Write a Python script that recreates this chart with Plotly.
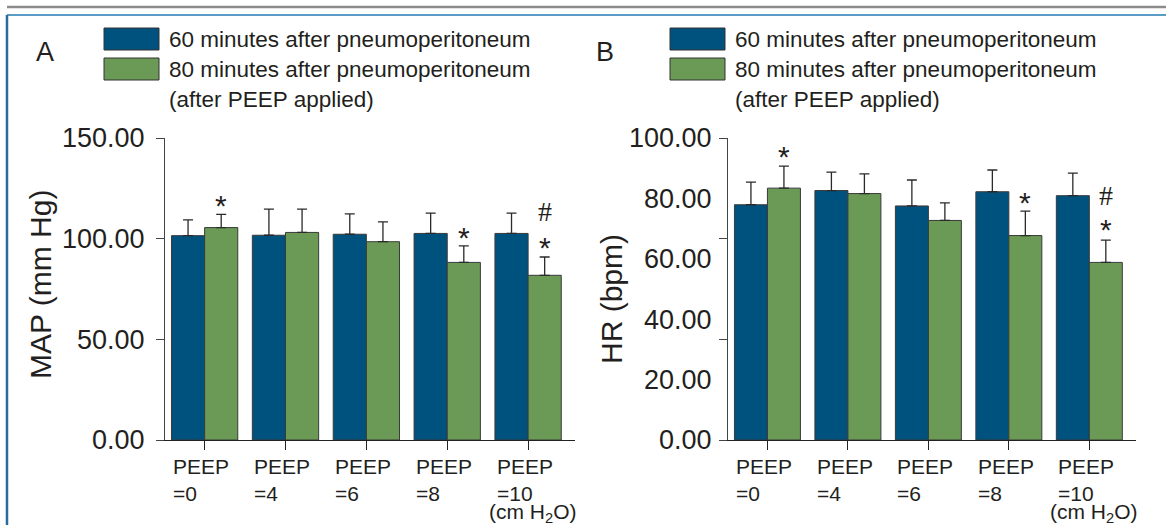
import plotly.graph_objects as go

# ---------------- data ----------------
categories = ["PEEP<br>=0", "PEEP<br>=4", "PEEP<br>=6", "PEEP<br>=8", "PEEP<br>=10"]
unit_label = "(cm H<sub>2</sub>O)"
series_names = ["60 minutes after pneumoperitoneum",
                "80 minutes after pneumoperitoneum",
                "(after PEEP applied)"]
y_titles = ["MAP (mm Hg)", "HR (bpm)"]

map_60 = [101.5, 101.7, 102.2, 102.6, 102.6]
map_60_sd = [7.8, 13.0, 10.1, 10.1, 10.1]
map_80 = [105.5, 103.1, 98.5, 88.2, 81.8]
map_80_sd = [6.6, 11.6, 9.8, 8.2, 9.1]
map_marks = [("*", 0, 116.5), ("*", 3, 100.8), ("#", 4, 113.6), ("*", 4, 95.8)]

hr_60 = [77.9, 82.6, 77.5, 82.2, 80.9]
hr_60_sd = [7.5, 6.1, 8.6, 7.2, 7.5]
hr_80 = [83.4, 81.6, 72.7, 67.7, 58.8]
hr_80_sd = [7.3, 6.5, 5.8, 8.1, 7.4]
hr_marks = [("*", 0, 94.0), ("*", 3, 78.8), ("#", 4, 80.9), ("*", 4, 69.8)]

map_ticks = [0, 50, 100, 150]
hr_ticks = [0, 20, 40, 60, 80, 100]
hr_tickmarks = [0, 100 / 3, 200 / 3, 100]

# ---------------- style ----------------
W, H = 1166, 525
BLUE = "#00527e"
GREEN = "#6a9a55"
TXT = "#231f20"
FONT = "Liberation Sans, Arial, sans-serif"
xpos = list(range(len(categories)))

def py(p):  # pixel from top -> paper
    return 1 - p / H

def px(p):
    return p / W

ydom = [py(440), py(138)]
xdomA = [px(165), px(575)]
xdomB = [px(728), px(1136)]
xrange_ = [-0.49, 4.58]

fig = go.Figure()

def add_panel(vals60, sd60, vals80, sd80, xa, ya):
    for vals, sd, col, name in [(vals60, sd60, BLUE, series_names[0]),
                                (vals80, sd80, GREEN, series_names[1])]:
        fig.add_trace(go.Bar(
            x=xpos, y=vals, name=name, marker=dict(color=col, line=dict(color="#3a3a3a", width=1)),
            error_y=dict(type="data", array=sd, symmetric=False, arrayminus=[0] * len(sd),
                         color="#2a2a2a", thickness=1.3, width=5),
            xaxis=xa, yaxis=ya, showlegend=False, hoverinfo="skip"))

add_panel(map_60, map_60_sd, map_80, map_80_sd, "x", "y")
add_panel(hr_60, hr_60_sd, hr_80, hr_80_sd, "x2", "y2")

axis_font = dict(family=FONT, size=27, color=TXT)
xcommon = dict(range=xrange_, showgrid=False, zeroline=False, showline=True, linecolor="#222",
               linewidth=1.2, ticks="outside", ticklen=9, tickcolor="#222", tickwidth=1,
               tickvals=xpos, ticktext=[""] * len(xpos), fixedrange=True, automargin=False)
fig.update_layout(
    width=W, height=H, margin=dict(l=0, r=0, t=0, b=0, autoexpand=False),
    paper_bgcolor="white", plot_bgcolor="white", showlegend=False,
    barmode="group", bargap=0.18, bargroupgap=0.0,
    xaxis=dict(domain=xdomA, anchor="y", **xcommon),
    xaxis2=dict(domain=xdomB, anchor="y2", **xcommon),
    yaxis=dict(domain=ydom, anchor="x", range=[0, 150], tickvals=map_ticks,
               ticktext=[f"{v:.2f}" for v in map_ticks], ticks="outside", ticklen=8,
               tickcolor="#444", showline=True, linecolor="#444", linewidth=1,
               showgrid=False, zeroline=False, tickfont=axis_font, ticklabelstandoff=6,
               automargin=False),
    yaxis2=dict(domain=ydom, anchor="x2", range=[0, 100], tickvals=hr_ticks,
                ticktext=[f"{v:.2f}" for v in hr_ticks], ticks="", showline=True,
                linecolor="#444", linewidth=1, showgrid=False, zeroline=False, tickfont=axis_font,
                ticklabelstandoff=10, automargin=False),
    yaxis3=dict(domain=ydom, anchor="x2", overlaying="y2", range=[0, 100], tickvals=hr_tickmarks,
                ticktext=[""] * len(hr_tickmarks), ticks="outside", ticklen=8, tickcolor="#444",
                showline=False, showgrid=False, zeroline=False, automargin=False),
)

# invisible trace to keep the tick-mark overlay axis alive
fig.add_trace(go.Scatter(x=[None], y=[None], xaxis="x2", yaxis="y3", showlegend=False,
                         hoverinfo="skip"))

ann = []
shapes = []

def panel_text(xa, ya, xd, marks, letter, letter_x, leg_x0, title, title_xy):
    # y-axis title
    ann.append(dict(x=px(title_xy[0]), y=py(title_xy[1]), xref="paper", yref="paper", text=title,
                    textangle=-90, showarrow=False, xanchor="center", yanchor="middle",
                    font=dict(family=FONT, size=30, color=TXT)))
    # x category labels, left aligned with the blue bar's left edge
    for k, c in zip(xpos, categories):
        ann.append(dict(x=k - 0.41, y=py(453), xref=xa, yref="paper", text=c, showarrow=False,
                        xanchor="left", yanchor="top", align="left",
                        font=dict(family=FONT, size=21, color=TXT)))
    ann.append(dict(x=xd[1] + px(4), y=py(513), xref="paper", yref="paper", text=unit_label,
                    showarrow=False, xanchor="right", yanchor="middle",
                    font=dict(family=FONT, size=21, color=TXT)))
    for sym, k, yv in marks:
        ann.append(dict(x=k + 0.205, y=yv, xref=xa, yref=ya, text=sym, showarrow=False,
                        xanchor="center", yanchor="middle",
                        font=dict(family="Liberation Serif, Times New Roman, serif" if sym == "#" else FONT,
                                  size=30 if sym == "*" else 28, color=TXT)))
    ann.append(dict(x=px(letter_x), y=py(52), xref="paper", yref="paper", text=letter,
                    showarrow=False, xanchor="center", yanchor="middle",
                    font=dict(family=FONT, size=27, color=TXT)))
    # legend
    for (yt, yb), col in [((28, 50), BLUE), ((58, 80), GREEN)]:
        shapes.append(dict(type="rect", xref="paper", yref="paper", x0=px(leg_x0), x1=px(leg_x0 + 55),
                           y0=py(yb), y1=py(yt), fillcolor=col, line=dict(color="#333", width=1)))
    for txt, yc in zip(series_names, [40, 69, 99]):
        ann.append(dict(x=px(leg_x0 + 63), y=py(yc), xref="paper", yref="paper", text=txt,
                        showarrow=False, xanchor="left", yanchor="middle",
                        font=dict(family=FONT, size=22.5, color=TXT)))

panel_text("x", "y", xdomA, map_marks, "A", 45, 104, y_titles[0], (40, 285))
panel_text("x2", "y2", xdomB, hr_marks, "B", 605, 670, y_titles[1], (611, 299))

# frame lines
shapes.append(dict(type="line", xref="paper", yref="paper", x0=px(7), x1=1, y0=py(7), y1=py(7),
                   line=dict(color="#8c8c8c", width=2.5)))
shapes.append(dict(type="line", xref="paper", yref="paper", x0=px(7), x1=1, y0=py(15), y1=py(15),
                   line=dict(color="#5b9cc6", width=2)))
shapes.append(dict(type="line", xref="paper", yref="paper", x0=px(7), x1=px(7), y0=0, y1=py(15),
                   line=dict(color="#2b6a9a", width=2.5)))

fig.update_layout(annotations=ann, shapes=shapes)
fig.write_html("out.html")
